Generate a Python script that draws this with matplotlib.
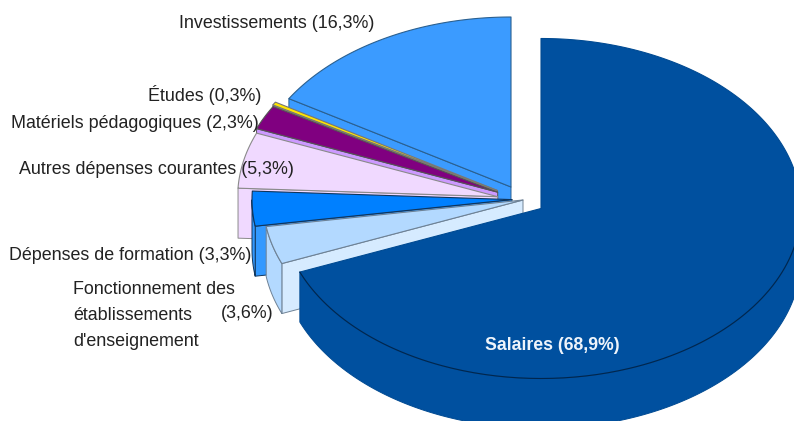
import numpy as np
import matplotlib
matplotlib.use('Agg')
import matplotlib.pyplot as plt
from matplotlib.patches import Polygon

plt.rcParams['font.family'] = ['Liberation Sans', 'DejaVu Sans']

# parts en %, sens horaire a partir du haut
postes = ['Salaires', 'Fonctionnement', 'Formation', 'Autres', 'Materiels', 'Etudes', 'Investissements']
parts = [68.9, 3.6, 3.3, 5.3, 2.3, 0.3, 16.3]

# mise en page (pixels)
centres = [(541, 208.5), (523, 200), (512, 199.6), (497.7, 196.7), (497.7, 192.2), (497.5, 190.5), (511, 187)]
couleurs = ['#00509f', '#b3d9ff', '#0080ff', '#f0d9ff', '#800080', '#ffe600', '#3b9bff']
murs_rad = ['#00509f', '#d6ebff', '#3399ff', '#f0d9ff', '#cc99ff', '#8f8f70', '#3b9bff']
murs_arc = ['#00509f', '#b3d9ff', '#3399ff', '#f0d9ff', '#800080', '#ffe600', '#3b9bff']
traits = ['#004a92', '#6f8295', '#10355c', '#8a8a8a', '#555555', '#777777', '#2a6090']
rx, ry, prof = 260, 170, 50

fig = plt.figure(figsize=(7.94, 4.21), dpi=100)
ax = fig.add_axes([0, 0, 1, 1])
ax.set_xlim(0, 794)
ax.set_ylim(421, 0)
ax.axis('off')

def bord(c, t):
    t = np.radians(t)
    return np.column_stack([c[0] + rx*np.cos(t), c[1] - ry*np.sin(t)])

bornes = 90 - 3.6*np.cumsum([0] + parts)
# de l'arriere vers l'avant
for i in range(len(parts)-1, -1, -1):
    c = centres[i]
    t0, t1 = bornes[i], bornes[i+1]
    ts = np.linspace(t0, t1, 300)
    arc = bord(c, ts)
    # mur radial (bord inferieur de la tranche)
    if i > 0:
        p = bord(c, t0)[0]
        mur = [p, c, (c[0], c[1]+prof), (p[0], p[1]+prof)]
        ax.add_patch(Polygon(mur, fc=murs_rad[i], ec=traits[i], lw=0.7, joinstyle='round'))
    # mur exterieur, seulement la partie vers l'avant
    av = np.sin(np.radians(ts)) <= 0
    if av.any():
        a = arc[av]
        bas = a + [0, prof]
        ax.add_patch(Polygon(np.vstack([a, bas[::-1]]), fc=murs_arc[i], ec=traits[i], lw=0.7))
    ax.add_patch(Polygon(np.vstack([[c], arc]), fc=couleurs[i], ec=traits[i], lw=0.8, joinstyle='round'))
    if i == 0:
        ax.plot(arc[av][:, 0], arc[av][:, 1], color='#00264d', lw=0.8)

# etiquettes
textes = ['Investissements (16,3%)', 'Études (0,3%)', 'Matériels pédagogiques (2,3%)',
          'Autres dépenses courantes (5,3%)', 'Dépenses de formation (3,3%)',
          'Fonctionnement des', 'établissements', "d'enseignement", '(3,6%)']
tx = [179, 148, 11, 19, 9, 73, 73, 73, 221]
ty = [24, 95, 123, 169, 256, 290, 316, 342, 314]
for s, x, y in zip(textes, tx, ty):
    ax.text(x, y, s, fontsize=12.9, color='#222222', ha='left', va='center')
ax.text(552, 345, 'Salaires (68,9%)', fontsize=12.7, color='#eef4fb', fontweight='bold', ha='center', va='center')

fig.savefig('out.png', dpi=100)
